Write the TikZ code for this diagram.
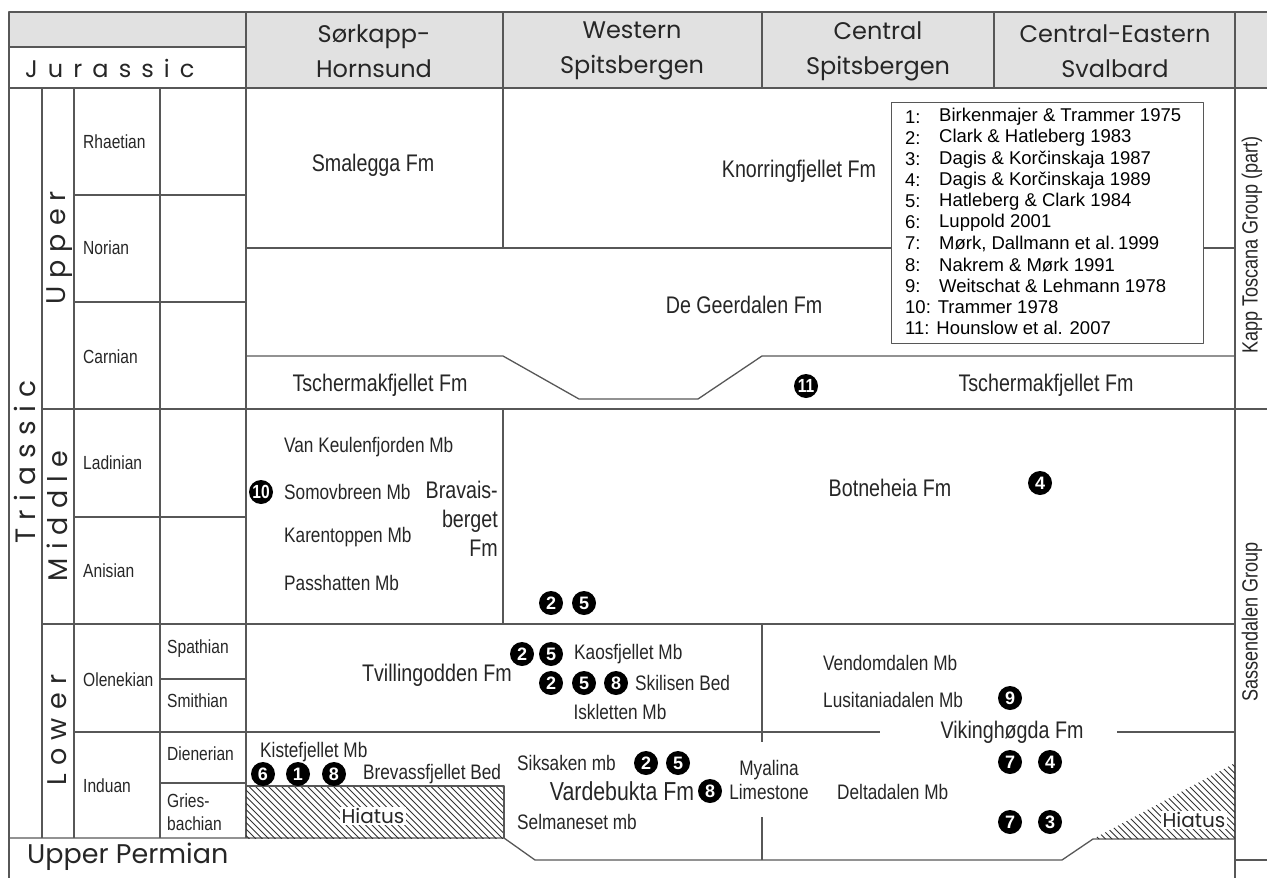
\documentclass[tikz,border=0pt]{standalone}
\usepackage{fontspec}
\setmainfont{Liberation Sans}
\newfontfamily\narrowfont{Liberation Sans}[FakeStretch=0.82]
\newfontfamily\gothfont{Poppins}
\newfontfamily\spacedfont{Poppins}[LetterSpace=30]
\newfontfamily\widefont{Poppins}[LetterSpace=42]
\newcommand{\fs}[2][]{\fontsize{#2}{#2}\selectfont}
\definecolor{rulegray}{HTML}{575757}
\definecolor{headgray}{HTML}{E1E1E1}
\definecolor{inkgray}{HTML}{262626}
\begin{document}
\begin{tikzpicture}[x=1pt,y=-1pt,line join=round,text=inkgray,
  rule/.style={draw=rulegray,line width=1.3pt},
  hatch/.style={draw=black!80,line width=0.9pt},
  head/.style={font=\gothfont\fontsize{24}{35}\selectfont,align=center,inner sep=0pt},
  stage/.style={font=\narrowfont\fontsize{19}{23}\selectfont,anchor=west,align=left,inner sep=0pt},
  series/.style={font=\spacedfont\fs{27},rotate=90,inner sep=0pt},
  fm/.style={font=\narrowfont\fontsize{24}{29}\selectfont,inner sep=0pt},
  mb/.style={font=\narrowfont\fontsize{21}{24}\selectfont,inner sep=0pt},
  grp/.style={font=\narrowfont\fs{22},rotate=90,inner sep=0pt},
  refno/.style={circle,fill=black,text=white,inner sep=0pt,minimum size=24pt,font=\bfseries\fs{18}},
  refwide/.style={refno,font=\narrowfont\bfseries\fs{19}},
  lgd/.style={font=\fs{18.5},anchor=west,inner sep=0pt,text=black},
  hiatus/.style={font=\gothfont\fs{20},fill=white,inner sep=1.5pt}]
\useasboundingbox (0,0) rectangle (1267,878);

% header
\fill[headgray] (9,12) rectangle (246,47);
\fill[headgray] (246,12) rectangle (1267,88);
\draw[rule] (9,878) -- (9,12) -- (1267,12);
\draw[rule] (9,47) -- (246,47);
\draw[rule] (9,88) -- (1267,88);
\foreach \x in {246,503,762,994} \draw[rule] (\x,12) -- (\x,88);
\draw[rule] (1235,12) -- (1235,878);
\node[anchor=west,font=\widefont\fs{24},inner sep=0pt] (jura) at (25,68) {Jurassic};
\node[head] (hsoer) at (374,51) {Sørkapp-\\Hornsund};
\node[head] (hwest) at (632,51) {Western\\Spitsbergen};
\node[head] (hcent) at (878,51) {Central\\Spitsbergen};
\node[head] (heast) at (1115,51) {Central-Eastern\\Svalbard};

% time scale columns
\foreach \x in {42,74,160,246} \draw[rule] (\x,88) -- (\x,838);
\foreach \y in {195,302,517} \draw[rule] (74,\y) -- (246,\y);
\foreach \y in {679,783} \draw[rule] (160,\y) -- (246,\y);
\draw[rule] (42,409) -- (1267,409);
\draw[rule] (42,624) -- (1235,624);
\draw[rule] (74,732) -- (880,732) (1117,732) -- (1235,732);
\draw[rule] (9,838) -- (504,838) -- (535,860) -- (1062,860) -- (1093,839) -- (1235,839);
\draw[rule] (1235,860) -- (1267,860);
\node[series,font=\spacedfont\fs{28}] (trias) at (25,462) {Triassic};
\node[series] (upper) at (60,248) {Upper};
\node[series] (middle) at (57,516) {Middle};
\node[series] (lower) at (57,730) {Lower};
\node[stage] (rhae) at (83,142) {Rhaetian};
\node[stage] (nori) at (83,248) {Norian};
\node[stage] (carn) at (83,357) {Carnian};
\node[stage] (ladi) at (83,463) {Ladinian};
\node[stage] (anis) at (83,571) {Anisian};
\node[stage] (olen) at (83,680) {Olenekian};
\node[stage] (indu) at (83,786) {Induan};
\node[stage] (spat) at (167,649) {Spathian};
\node[stage] (smit) at (167,701) {Smithian};
\node[stage] (dien) at (167,754) {Dienerian};
\node[stage] (gries) at (167,812) {Gries-\\bachian};
\node[anchor=west,font=\gothfont\fs{27},inner sep=0pt] (perm) at (27,857) {Upper Permian};

% formation boundaries
\draw[rule] (503,88) -- (503,248);
\draw[rule] (246,248) -- (1235,248);
\draw[rule] (246,356) -- (503,356) -- (579,399) -- (698,399) -- (762,356) -- (1235,356);
\draw[rule] (503,409) -- (503,624);
\draw[rule] (762,624) -- (762,742) (762,817) -- (762,860);

% hiatus areas
\begin{scope}
  \clip (246,786) rectangle (504,838);
  \foreach \x in {190,196.5,...,504} \draw[hatch] (\x,786) -- ++(53,53);
\end{scope}
\draw[rule] (246,786) -- (504,786) -- (504,838);
\begin{scope}
  \clip (1093,839) -- (1235,839) -- (1235,763) -- cycle;
  \foreach \x in {1010,1016.5,...,1235} \draw[hatch] (\x,763) -- ++(77,77);
\end{scope}
\node[hiatus] (hiatA) at (373,816) {Hiatus};
\node[hiatus] (hiatB) at (1194,820) {Hiatus};

% legend
\node[draw=rulegray,fill=white,line width=1pt,anchor=north west,minimum width=312pt,minimum height=241pt] (legendbox) at (891,102) {};
\foreach \t [count=\i] in {Birkenmajer \& Trammer 1975,Clark \& Hatleberg 1983,Dagis \& Korčinskaja 1987,Dagis \& Korčinskaja 1989,Hatleberg \& Clark 1984,Luppold 2001,{Mørk, Dallmann et al.\,1999},Nakrem \& Mørk 1991,Weitschat \& Lehmann 1978}
  {\node[lgd] (lnum\i) at (905,95.9+21.1*\i) {\i:};
   \node[lgd] (ltxt\i) at (939,95.9+21.1*\i) {\t};}
\node[lgd] (ltxt10) at (905,307) {10: Trammer 1978};
\node[lgd] (ltxt11) at (905,328) {11: Hounslow et al. 2007};

% upper triassic
\node[fm] (smalegga) at (373,165) {Smalegga Fm};
\node[fm] (knorring) at (799,171) {Knorringfjellet Fm};
\node[fm] (geerdalen) at (744,305) {De Geerdalen Fm};
\node[fm] (tscherA) at (380,385) {Tschermakfjellet Fm};
\node[fm] (tscherB) at (1046,385) {Tschermakfjellet Fm};
\node[refwide] (r11) at (806,386) {11};

% middle triassic
\node[mb,anchor=west] (keulen) at (284,447) {Van Keulenfjorden Mb};
\node[mb,anchor=west] (somov) at (284,492) {Somovbreen Mb};
\node[mb,anchor=west] (karen) at (284,537) {Karentoppen Mb};
\node[mb,anchor=west] (passh) at (284,583) {Passhatten Mb};
\node[refwide] (r10) at (261,492) {10};
\node[fm,align=right,anchor=east] (bravais) at (498,519) {Bravais-\\berget\\Fm};
\node[fm] (botneheia) at (890,488) {Botneheia Fm};
\node[refno] (r4a) at (1040,483) {4};
\node[refno] (r2a) at (551,603) {2};
\node[refno] (r5a) at (584,603) {5};

% lower triassic
\node[fm] (tvilling) at (437,675) {Tvillingodden Fm};
\node[refno] (r2b) at (522,654) {2};
\node[refno] (r5b) at (551,654) {5};
\node[mb,anchor=west] (kaos) at (574,654) {Kaosfjellet Mb};
\node[refno] (r2c) at (551,683) {2};
\node[refno] (r5c) at (584,683) {5};
\node[refno] (r8a) at (616,683) {8};
\node[mb,anchor=west] (skilisen) at (635,683) {Skilisen Bed};
\node[mb] (iskletten) at (620,712) {Iskletten Mb};
\node[mb,anchor=west] (vendom) at (823,663) {Vendomdalen Mb};
\node[mb,anchor=west] (lusit) at (823,700) {Lusitaniadalen Mb};
\node[refno] (r9) at (1010,698) {9};
\node[fm] (viking) at (1012,732) {Vikinghøgda Fm};
\node[refno] (r7a) at (1010,762) {7};
\node[refno] (r4b) at (1050,762) {4};
\node[refno] (r7b) at (1010,822) {7};
\node[refno] (r3) at (1050,822) {3};
\node[mb,anchor=west] (delta) at (837,792) {Deltadalen Mb};
\node[mb,align=center] (myalina) at (769,780) {Myalina\\Limestone};
\node[mb,anchor=west] (kiste) at (260,752) {Kistefjellet Mb};
\node[refno] (r6) at (263,774) {6};
\node[refno] (r1) at (298,774) {1};
\node[refno] (r8b) at (334,774) {8};
\node[mb,anchor=west] (brevass) at (363,774) {Brevassfjellet Bed};
\node[mb,anchor=west] (siksaken) at (517,763) {Siksaken mb};
\node[refno] (r2d) at (646,763) {2};
\node[refno] (r5d) at (678,763) {5};
\node[fm,font=\narrowfont\fs{26}] (vardebukta) at (622,791) {Vardebukta Fm};
\node[refno] (r8c) at (710,791) {8};
\node[mb,anchor=west] (selman) at (517,822) {Selmaneset mb};

% groups
\node[grp] (kapp) at (1252,245) {Kapp Toscana Group (part)};
\node[grp] (sass) at (1252,622) {Sassendalen Group};
\end{tikzpicture}
\end{document}
